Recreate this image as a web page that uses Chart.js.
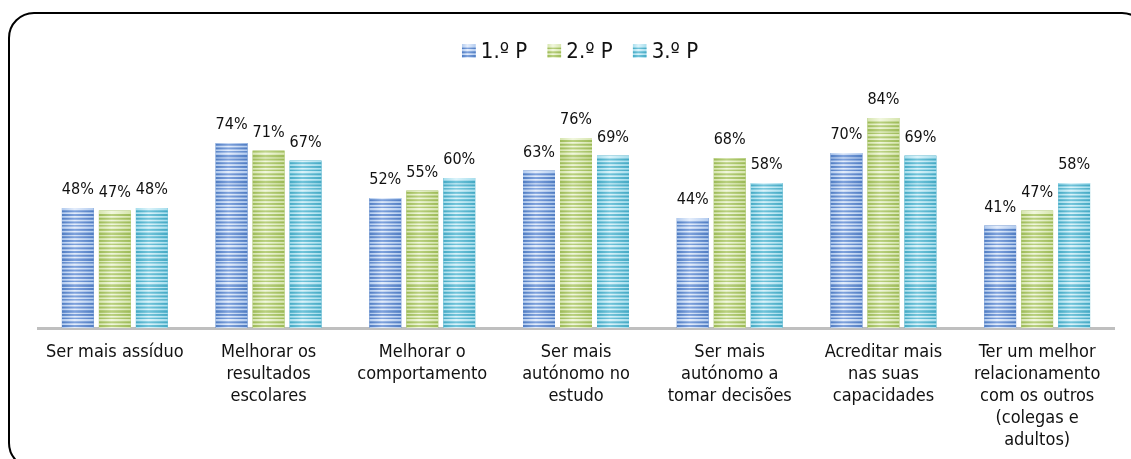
<!DOCTYPE html>
<html>
<head>
<meta charset="utf-8">
<script src="https://cdn.jsdelivr.net/npm/chart.js@4.4.1/dist/chart.umd.min.js"></script>
<style>
  html, body { margin: 0; padding: 0; background: #ffffff; overflow: hidden; }
  #wrap { position: relative; width: 1131px; height: 459px; }
</style>
</head>
<body>
<div id="wrap"><canvas id="chart" width="1131" height="459"></canvas></div>
<script>
// Categories (multi-line labels)
const categories = [
  ["Ser mais assíduo"],
  ["Melhorar os", "resultados", "escolares"],
  ["Melhorar o", "comportamento"],
  ["Ser mais", "autónomo no", "estudo"],
  ["Ser mais", "autónomo a", "tomar decisões"],
  ["Acreditar mais", "nas suas", "capacidades"],
  ["Ter um melhor", "relacionamento", "com os outros", "(colegas e", "adultos)"]
];

// Series names
const seriesNames = ["1.º P", "2.º P", "3.º P"];

// Percentages per period
const period1 = [48, 74, 52, 63, 44, 70, 41];
const period2 = [47, 71, 55, 76, 68, 84, 47];
const period3 = [48, 67, 60, 69, 58, 69, 58];

// Colour sets per series: stripe dark, stripe mid, stripe light, highlight
const palettes = [
  { base: "#4f7cc2", dark: "#4f7cc2", mid: "#7fa2dc", light: "#b2cbef", hi: "#e4edfb" },
  { base: "#9cba57", dark: "#9cba57", mid: "#b9d07f", light: "#d6e5ae", hi: "#f1f7de" },
  { base: "#44a9c4", dark: "#44a9c4", mid: "#72c4da", light: "#a6deed", hi: "#dbf3fa" }
];

const FONT = "'DejaVu Sans Condensed', 'DejaVu Sans', sans-serif";

// Fill a rectangle with the striped, centre-lit bar texture
function paintStripes(ctx, pal, left, top, width, height) {
  ctx.save();
  ctx.beginPath();
  ctx.rect(left, top, width, height);
  ctx.clip();
  const g = ctx.createLinearGradient(left, 0, left + width, 0);
  g.addColorStop(0, pal.light);
  g.addColorStop(0.4, pal.hi);
  g.addColorStop(1, pal.light);
  ctx.fillStyle = g;
  ctx.fillRect(left, top, width, height);
  const gd = ctx.createLinearGradient(left, 0, left + width, 0);
  gd.addColorStop(0, pal.dark);
  gd.addColorStop(0.4, pal.mid);
  gd.addColorStop(1, pal.dark);
  const bottom = top + height;
  let k = 0;
  for (let yy = bottom - 3; yy > top; yy -= 3.7) {
    const h = (k % 5 === 2) ? 1.4 : (k % 7 === 4 ? 2.6 : 2);
    ctx.fillStyle = gd;
    ctx.fillRect(left, yy, width, h);
    k++;
  }
  ctx.restore();
}

// Rounded outer frame
const framePlugin = {
  id: "frame",
  afterDraw(chart) {
    const ctx = chart.ctx;
    ctx.save();
    ctx.beginPath();
    ctx.roundRect(9, 13, 1138, 455, 25);
    ctx.lineWidth = 2;
    ctx.strokeStyle = "#000000";
    ctx.stroke();
    ctx.restore();
  }
};

// Striped texture over each bar plus its percentage label
const barDecor = {
  id: "barDecor",
  afterDatasetsDraw(chart) {
    const ctx = chart.ctx;
    chart.data.datasets.forEach((ds, di) => {
      const meta = chart.getDatasetMeta(di);
      meta.data.forEach((bar, i) => {
        const p = bar.getProps(["x", "y", "base", "width"], true);
        const left = p.x - p.width / 2;
        paintStripes(ctx, palettes[di], left, p.y, p.width, p.base - p.y);
        ctx.save();
        ctx.font = "16px " + FONT;
        ctx.fillStyle = "#111111";
        ctx.textAlign = "center";
        ctx.textBaseline = "alphabetic";
        ctx.fillText(ds.data[i] + "%", p.x, p.y - 14);
        ctx.restore();
      });
    });
  }
};

// Legend row at the top
const legendRow = {
  id: "legendRow",
  afterDraw(chart) {
    const ctx = chart.ctx;
    ctx.save();
    ctx.font = "22px " + FONT;
    ctx.textBaseline = "middle";
    ctx.textAlign = "left";
    const box = 14, gap = 5, spacing = 20;
    const widths = seriesNames.map(n => ctx.measureText(n).width);
    const total = widths.reduce((a, w) => a + box + gap + w, 0) + spacing * (seriesNames.length - 1);
    let x = 580 - total / 2;
    const cy = 51;
    seriesNames.forEach((n, i) => {
      paintStripes(ctx, palettes[i], x, cy - 7, box, box);
      ctx.fillStyle = "#111111";
      ctx.fillText(n, x + box + gap, cy + 1);
      x += box + gap + widths[i] + spacing;
    });
    ctx.restore();
  }
};

const ctx = document.getElementById("chart").getContext("2d");
new Chart(ctx, {
  type: "bar",
  data: {
    labels: categories,
    datasets: [period1, period2, period3].map((vals, i) => ({
      label: seriesNames[i],
      data: vals,
      backgroundColor: palettes[i].base,
      borderWidth: 0,
      categoryPercentage: 0.722,
      barPercentage: 0.865
    }))
  },
  options: {
    responsive: false,
    animation: false,
    events: [],
    layout: { padding: { top: 78, left: 38, right: 17, bottom: -5 } },
    plugins: { legend: { display: false }, tooltip: { enabled: false } },
    scales: {
      y: { display: false, min: 0, max: 100 },
      x: {
        grid: { display: false, drawTicks: false },
        border: { display: true, color: "#bfbfbf", width: 3 },
        ticks: {
          color: "#111111",
          font: { family: FONT, size: 18, lineHeight: 1.222 },
          padding: 13,
          maxRotation: 0,
          autoSkip: false
        }
      }
    }
  },
  plugins: [barDecor, legendRow, framePlugin]
});
</script>
</body>
</html>
